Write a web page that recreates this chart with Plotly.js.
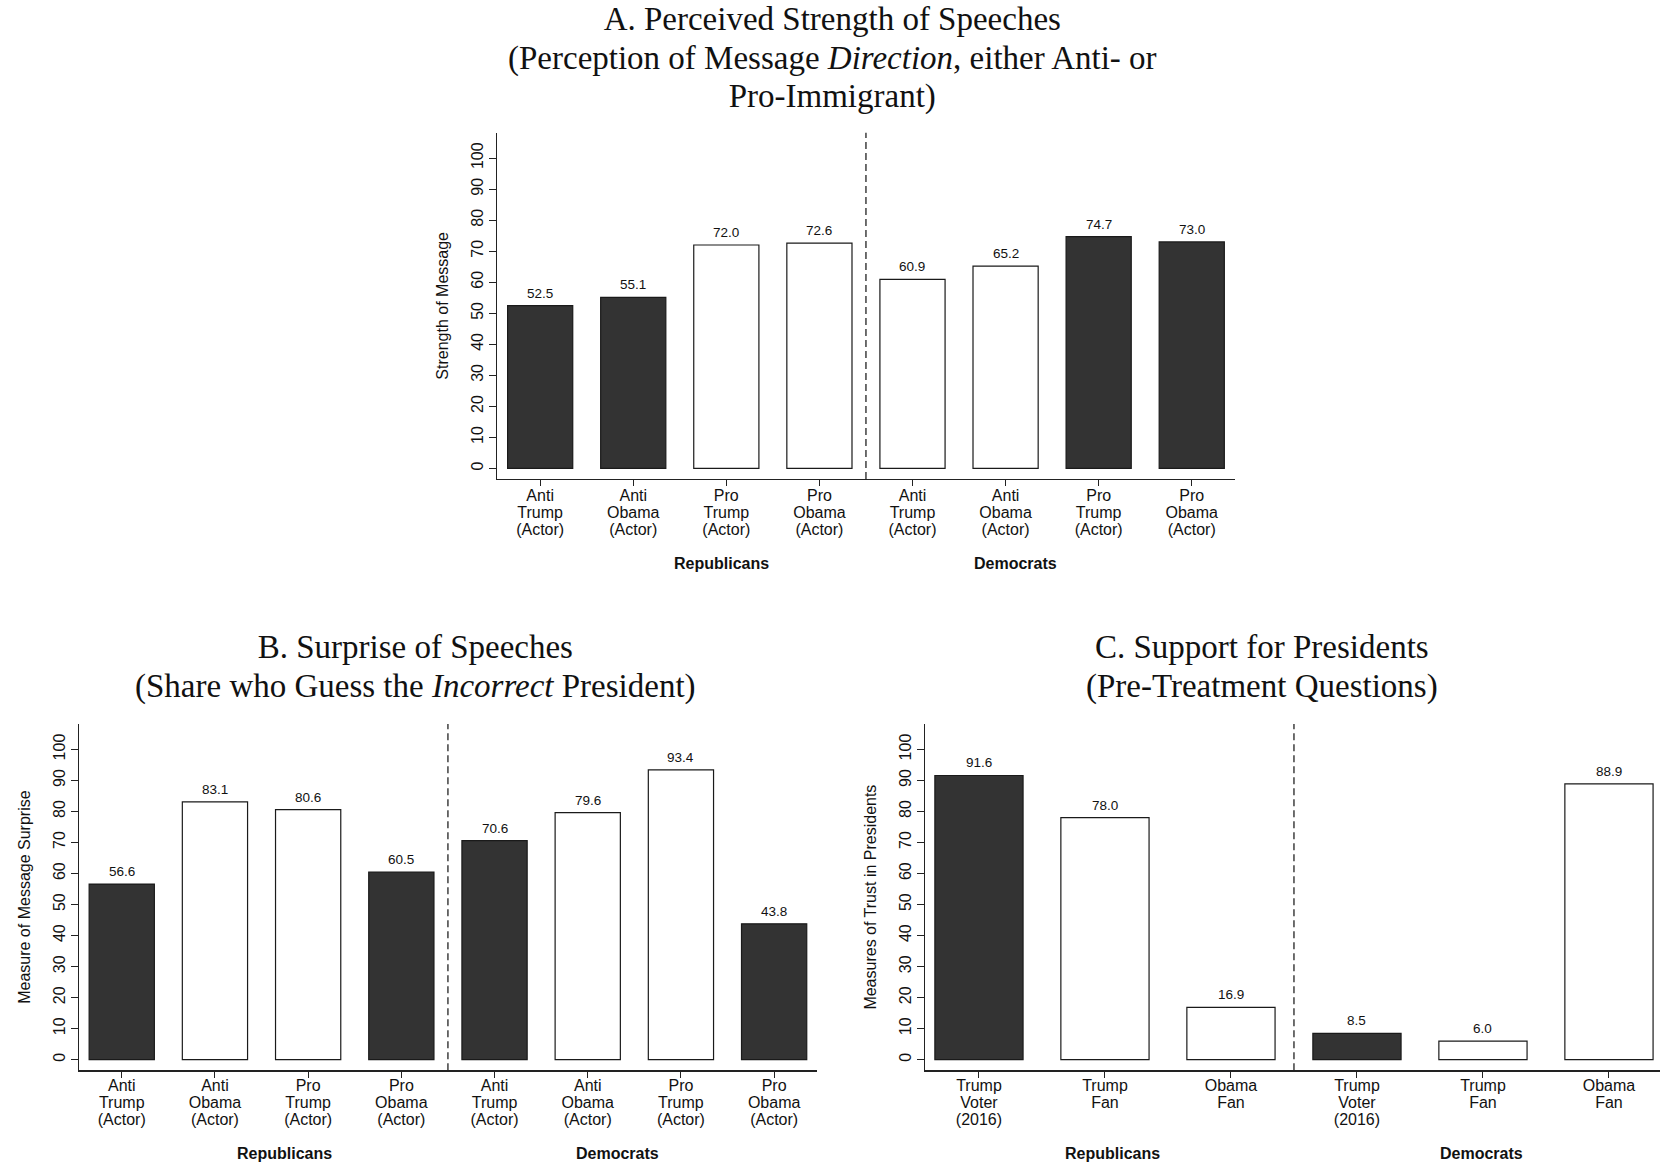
<!DOCTYPE html>
<html><head><meta charset="utf-8">
<script src="https://cdn.plot.ly/plotly-3.0.1.min.js"></script>
<style>html,body{margin:0;padding:0;background:#fff}</style>
</head><body><div id="chart" style="width:1660px;height:1166px"></div>
<script>
// ---- data ----
const speechLabels = ['Anti<br>Trump<br>(Actor)','Anti<br>Obama<br>(Actor)','Pro<br>Trump<br>(Actor)','Pro<br>Obama<br>(Actor)',
                      'Anti<br>Trump<br>(Actor)','Anti<br>Obama<br>(Actor)','Pro<br>Trump<br>(Actor)','Pro<br>Obama<br>(Actor)'];
const strengthValues = [52.5, 55.1, 72.0, 72.6, 60.9, 65.2, 74.7, 73.0];
const strengthDark   = [true, true, false, false, false, false, true, true];
const surpriseValues = [56.6, 83.1, 80.6, 60.5, 70.6, 79.6, 93.4, 43.8];
const surpriseDark   = [true, false, false, true, true, false, false, true];
const supportLabels  = ['Trump<br>Voter<br>(2016)','Trump<br>Fan','Obama<br>Fan','Trump<br>Voter<br>(2016)','Trump<br>Fan','Obama<br>Fan'];
const supportValues  = [91.6, 78.0, 16.9, 8.5, 6.0, 88.9];
const supportDark    = [true, false, false, true, false, false];
const groupLabels    = ['Republicans', 'Democrats'];
const yTicks = [0,10,20,30,40,50,60,70,80,90,100];

const panelTitles = [
  'A. Perceived Strength of Speeches<br>(Perception of Message <i>Direction</i>, either Anti- or<br>Pro-Immigrant)',
  'B. Surprise of Speeches<br>(Share who Guess the <i>Incorrect</i> President)',
  'C. Support for Presidents<br>(Pre-Treatment Questions)'
];
const yTitles = ['Strength of Message', 'Measure of Message Surprise', 'Measures of Trust in Presidents'];

// ---- styling ----
const DARK = '#333333', LIGHT = '#ffffff', EDGE = '#1a1a1a', AXIS = '#222222';
const SANS = 'Liberation Sans, Arial, Helvetica, sans-serif';
const SERIF = 'Liberation Serif, Times New Roman, serif';

const panels = [
  {vals: strengthValues, dark: strengthDark, labels: speechLabels, xa: 'x',  ya: 'y',
   xdom: [0.2996, 0.7440], ydom: [0.5892, 0.8862], xr: [-0.46, 7.465],
   groupX: [1.95, 5.11], groupY: 0.5163, title: panelTitles[0], titleX: 0.5018, titleY: 1.001},
  {vals: surpriseValues, dark: surpriseDark, labels: speechLabels, xa: 'x2', ya: 'y2',
   xdom: [0.0478, 0.4920], ydom: [0.0821, 0.3791], xr: [-0.455, 7.457],
   groupX: [1.75, 5.32], groupY: 0.0111, title: panelTitles[1], titleX: 0.2506, titleY: 0.4624},
  {vals: supportValues, dark: supportDark, labels: supportLabels, xa: 'x3', ya: 'y3',
   xdom: [0.5574, 1.0], ydom: [0.0821, 0.3791], xr: [-0.426, 5.405],
   groupX: [1.06, 3.99], groupY: 0.0111, title: panelTitles[2], titleX: 0.7602, titleY: 0.4624}
];

const traces = [];
const annotations = [];
const shapes = [];
const layout = {
  width: 1660, height: 1166,
  margin: {l: 0, r: 0, t: 0, b: 0},
  paper_bgcolor: '#fff', plot_bgcolor: '#fff',
  showlegend: false,
  font: {family: SANS, color: '#111'},
  annotations: annotations, shapes: shapes
};

panels.forEach((p, i) => {
  const idx = p.vals.map((_, k) => k);
  traces.push({
    type: 'bar', x: idx, y: p.vals, xaxis: p.xa, yaxis: p.ya, width: 0.7,
    marker: {color: p.dark.map(d => d ? DARK : LIGHT), line: {color: EDGE, width: 1.2}},
    hoverinfo: 'skip'
  });
  const sfx = i === 0 ? '' : String(i + 1);
  layout['xaxis' + sfx] = {
    domain: p.xdom, anchor: p.ya, range: p.xr, fixedrange: true,
    tickmode: 'array', tickvals: idx, ticktext: p.labels,
    ticks: 'outside', ticklen: 6, tickwidth: 1, tickcolor: AXIS, ticklabelstandoff: i === 0 ? -4 : -6,
    showline: true, linecolor: AXIS, linewidth: 1.3,
    showgrid: false, zeroline: false,
    tickfont: {family: SANS, size: 16, color: '#111'}
  };
  layout['yaxis' + sfx] = {
    domain: p.ydom, anchor: p.xa, range: [-3.4, 108.2], fixedrange: true,
    tickmode: 'array', tickvals: yTicks, ticktext: yTicks.map(String), tickangle: -90,
    ticks: 'outside', ticklen: 7, tickwidth: 1, tickcolor: AXIS,
    showline: true, linecolor: AXIS, linewidth: 1.3,
    showgrid: false, zeroline: false,
    tickfont: {family: SANS, size: 16, color: '#111'},
    title: {text: yTitles[i], font: {family: SANS, size: 16, color: '#111'}, standoff: 16}
  };
  // value labels
  p.vals.forEach((v, k) => {
    annotations.push({xref: p.xa, yref: p.ya, x: k, y: v, text: v.toFixed(1), showarrow: false,
      yanchor: 'bottom', yshift: 3, font: {family: SANS, size: 13.5, color: '#111'}});
  });
  // party divider
  shapes.push({type: 'line', xref: p.xa, yref: p.ya + ' domain', x0: p.vals.length / 2 - 0.5, x1: p.vals.length / 2 - 0.5,
    y0: 0, y1: 1, line: {color: AXIS, width: 1.3, dash: '7px,4px'}});
  // group labels
  groupLabels.forEach((g, k) => {
    annotations.push({xref: p.xa, yref: 'paper', x: p.groupX[k], y: p.groupY, text: '<b>' + g + '</b>',
      showarrow: false, yanchor: 'middle', font: {family: SANS, size: 16, color: '#111'}});
  });
  // panel title
  annotations.push({xref: 'paper', yref: 'paper', x: p.titleX, y: p.titleY, text: p.title, showarrow: false,
    xanchor: 'center', yanchor: 'top', font: {family: SERIF, size: 33, color: '#111'}});
});

function tightenLines(gd) {
  // Stata-like tighter leading for multi-line tick labels and titles
  gd.querySelectorAll('.xaxislayer-above text, .annotation-text').forEach(t => {
    const isTitle = t.classList.contains('annotation-text');
    const step = isTitle ? 1.17 : 1.06;
    t.querySelectorAll('tspan.line').forEach((ln, i) => ln.setAttribute('dy', (i * step) + 'em'));
  });
}

Plotly.newPlot('chart', traces, layout, {staticPlot: true, displayModeBar: false}).then(tightenLines);
</script>
</body></html>
